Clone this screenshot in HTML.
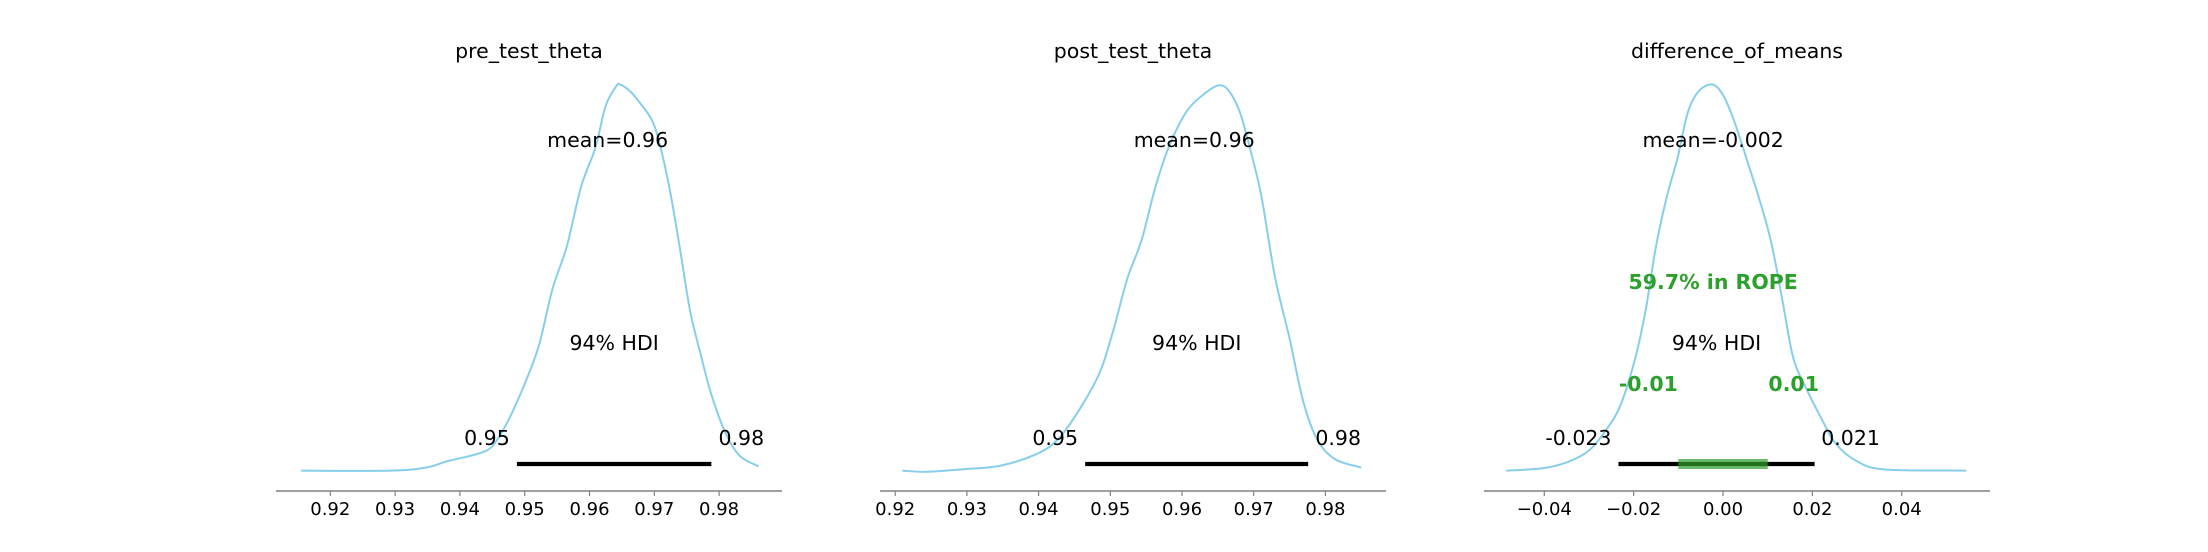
<!DOCTYPE html>
<html><head><meta charset="utf-8"><style>
body{margin:0;background:#fff;}
svg{display:block;font-family:"DejaVu Sans","Liberation Sans",sans-serif;}
</style></head><body>
<svg id="c" width="2208" height="552"></svg>
<script>
const titles = ["pre_test_theta","post_test_theta","difference_of_means"];
const meanLabels = ["mean=0.96","mean=0.96","mean=-0.002"];
const meanPos = [0.9628,0.9617,-0.0022];
const hdiLow = [0.9488,0.9465,-0.0234];
const hdiHigh = [0.9788,0.9776,0.0205];
const hdiLowLabel = ["0.95","0.95","-0.023"];
const hdiHighLabel = ["0.98","0.98","0.021"];
const ropeLow = -0.01, ropeHigh = 0.01;
const ropeText = "59.7% in ROPE";
const ticks1 = [0.92,0.93,0.94,0.95,0.96,0.97,0.98];
const ticks2 = [0.92,0.93,0.94,0.95,0.96,0.97,0.98];
const ticks3 = [-0.04,-0.02,0.00,0.02,0.04];
const tickLabels1 = ["0.92","0.93","0.94","0.95","0.96","0.97","0.98"];
const tickLabels2 = ["0.92","0.93","0.94","0.95","0.96","0.97","0.98"];
const tickLabels3 = ["\u22120.04","\u22120.02","0.00","0.02","0.04"];
const kdeX1 = [0.9155,0.9293,0.9348,0.938,0.9429,0.9451,0.9473,0.95,0.9522,0.9543,0.9565,0.9587,0.9609,0.9625,0.9641,0.9647,0.9663,0.9679,0.9696,0.9707,0.9723,0.9739,0.9755,0.9772,0.9788,0.981,0.9832,0.9861];
const kdeY1 = [0.003,0.003,0.011,0.027,0.047,0.068,0.127,0.227,0.327,0.473,0.582,0.736,0.836,0.945,0.995,1.0,0.982,0.95,0.909,0.855,0.736,0.582,0.418,0.3,0.2,0.1,0.041,0.014];
const kdeX2 = [0.921,0.9244,0.9298,0.9347,0.9396,0.9426,0.9455,0.9485,0.9504,0.9524,0.9544,0.9563,0.9583,0.9607,0.9632,0.9652,0.9666,0.9681,0.9696,0.9711,0.973,0.975,0.9769,0.9789,0.9814,0.985];
const kdeY2 = [0.003,0,0.007,0.016,0.045,0.082,0.155,0.255,0.364,0.5,0.6,0.736,0.845,0.932,0.977,0.998,0.982,0.927,0.827,0.709,0.5,0.345,0.182,0.082,0.032,0.011];
const kdeX3 = [-0.0485,-0.0404,-0.0348,-0.03,-0.0261,-0.0229,-0.0197,-0.0173,-0.015,-0.0126,-0.0102,-0.0079,-0.0055,-0.0024,0.0,0.0024,0.0055,0.0087,0.011,0.0134,0.0158,0.0189,0.0221,0.0252,0.03,0.0363,0.0544];
const kdeY3 = [0.003,0.009,0.025,0.055,0.109,0.173,0.291,0.418,0.582,0.709,0.809,0.927,0.982,1.0,0.973,0.909,0.8,0.682,0.582,0.436,0.291,0.209,0.136,0.073,0.027,0.006,0.003];

const NS="http://www.w3.org/2000/svg";
const svg=document.getElementById('c');
function mk(tag,attrs,parent){const e=document.createElementNS(NS,tag);for(const k in attrs)e.setAttribute(k,attrs[k]);(parent||svg).appendChild(e);return e;}
function smooth(pts){
 let d='M'+pts[0][0].toFixed(1)+','+pts[0][1].toFixed(1);
 for(let i=0;i<pts.length-1;i++){
  const p0=pts[Math.max(0,i-1)],p1=pts[i],p2=pts[i+1],p3=pts[Math.min(pts.length-1,i+2)];
  const c1x=p1[0]+(p2[0]-p0[0])/6,c1y=p1[1]+(p2[1]-p0[1])/6;
  const c2x=p2[0]-(p3[0]-p1[0])/6,c2y=p2[1]-(p3[1]-p1[1])/6;
  d+='C'+c1x.toFixed(1)+','+c1y.toFixed(1)+' '+c2x.toFixed(1)+','+c2y.toFixed(1)+' '+p2[0].toFixed(1)+','+p2[1].toFixed(1);
 }
 return d;
}
const panels=[
 {x0:330.3,v0:0.92,k:6480,sL:276,sR:782,ticks:ticks1,tl:tickLabels1,kx:kdeX1,ky:kdeY1,lo:-30,hi:30},
 {x0:895.2,v0:0.92,k:7170,sL:880,sR:1386,ticks:ticks2,tl:tickLabels2,kx:kdeX2,ky:kdeY2,lo:-30,hi:30},
 {x0:1723,v0:0,k:4468,sL:1484,sR:1990,ticks:ticks3,tl:tickLabels3,kx:kdeX3,ky:kdeY3,lo:-40,hi:36}
];
const base=471.8, peak=84.5;
function yS(h){return base-h*(base-peak);}
panels.forEach((p,i)=>{
 const xS=v=>p.x0+(v-p.v0)*p.k;
 const g=mk('g',{});
 
 
 const t=mk('text',{x:(p.sL+p.sR)/2,y:58,'font-size':20.5,'text-anchor':'middle'},g);
 t.textContent=titles[i];
 
 
 const ax=mk('line',{x1:p.sL,x2:p.sR,y1:491,y2:491,stroke:'#808080','stroke-width':1.4},g);
 
 
 p.ticks.forEach((v,j)=>{
  const tk=mk('line',{x1:xS(v),x2:xS(v),y1:491,y2:496,stroke:'#808080','stroke-width':1.2},g);
  
  
  const tl=mk('text',{x:xS(v),y:515,'font-size':18,'text-anchor':'middle'},g);
  tl.textContent=p.tl[j];
  
  
 });
 const pts=p.kx.map((v,j)=>[xS(v),yS(p.ky[j])]);
 const path=mk('path',{d:smooth(pts),fill:'none',stroke:'#87ceeb','stroke-width':2},g);
 
 
 const hb=mk('line',{x1:xS(hdiLow[i]),x2:xS(hdiHigh[i]),y1:464,y2:464,stroke:'#000','stroke-width':4.2},g);
 
 
 if(i===2){
  const rb=mk('line',{x1:xS(ropeLow),x2:xS(ropeHigh),y1:464,y2:464,stroke:'#2ca02c','stroke-width':10,'stroke-opacity':0.7},g);
  
  
  const rt=mk('text',{x:xS(-0.0022),y:289,'font-size':20.5,'font-weight':'bold',fill:'#2ca02c','text-anchor':'middle'},g);
  rt.textContent=ropeText;
  
  
  const r1=mk('text',{x:xS(ropeLow)-30,y:391,'font-size':20.5,'font-weight':'bold',fill:'#2ca02c','text-anchor':'middle'},g);
  r1.textContent='-0.01';
  
  
  const r2=mk('text',{x:xS(ropeHigh)+26,y:391,'font-size':20.5,'font-weight':'bold',fill:'#2ca02c','text-anchor':'middle'},g);
  r2.textContent='0.01';
  
  
 }
 const mt=mk('text',{x:xS(meanPos[i]),y:147,'font-size':20.5,'text-anchor':'middle'},g);
 mt.textContent=meanLabels[i];
 
 
 const ht=mk('text',{x:(xS(hdiLow[i])+xS(hdiHigh[i]))/2,y:350,'font-size':20.5,'text-anchor':'middle'},g);
 ht.textContent='94% HDI';
 
 
 const lo=mk('text',{x:xS(hdiLow[i])+p.lo,y:445,'font-size':20.5,'text-anchor':'middle'},g);
 lo.textContent=hdiLowLabel[i];
 
 
 const hi=mk('text',{x:xS(hdiHigh[i])+p.hi,y:445,'font-size':20.5,'text-anchor':'middle'},g);
 hi.textContent=hdiHighLabel[i];
 
 
});
</script>
</body></html>
